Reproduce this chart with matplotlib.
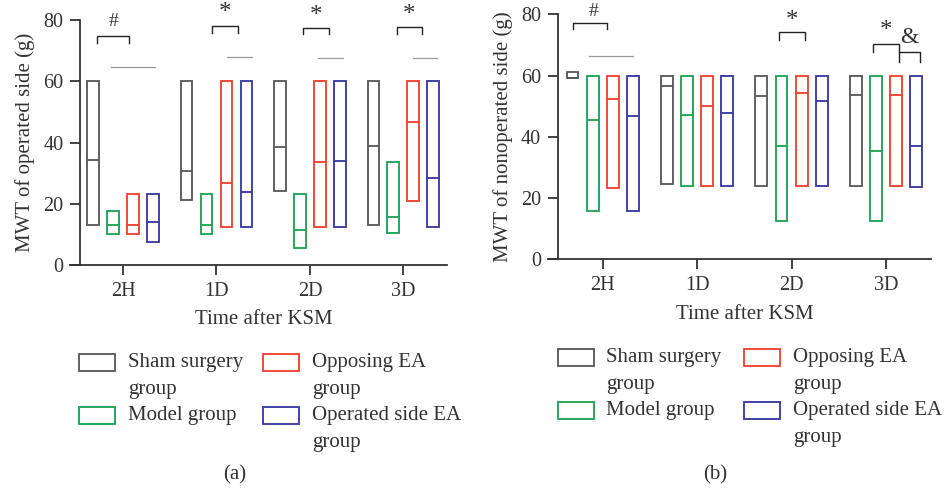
import matplotlib
matplotlib.use("Agg")
import matplotlib.pyplot as plt
import numpy as np
from matplotlib.patches import Rectangle

plt.rcParams['font.family'] = ['Liberation Serif', 'DejaVu Serif']

# --- data ---
times = ['2H', '1D', '2D', '3D']
groups = ['Sham surgery\ngroup', 'Model group', 'Opposing EA\ngroup', 'Operated side EA\ngroup']
colors = ['#555555', '#18a050', '#f03c28', '#3434a0']
offsets = [-0.32, -0.107, 0.107, 0.32]

# rows = groups (sham, model, opposing EA, operated side EA), cols = times
a_low = [[13, 21.2, 24.3, 13],
         [10, 10, 5.5, 10.5],
         [10, 12.5, 12.5, 20.8],
         [7.6, 12.5, 12.5, 12.5]]
a_med = [[34.2, 30.6, 38.5, 39],
         [13, 13, 11.4, 15.6],
         [13, 26.8, 33.7, 46.6],
         [14, 23.7, 33.8, 28.3]]
a_high = [[60, 60, 60, 60],
          [17.6, 23.3, 23.3, 33.5],
          [23.3, 60, 60, 60],
          [23.3, 60, 60, 60]]

b_low = [[59.3, 24.6, 24, 24],
         [15.9, 24, 12.6, 12.6],
         [23.3, 24, 24, 24],
         [15.9, 24, 24, 23.6]]
b_med = [[59.3, 56.6, 53.4, 53.8],
         [45.4, 47.1, 37.1, 35.5],
         [52.3, 50.2, 54.4, 53.8],
         [46.8, 47.7, 51.8, 37.1]]
b_high = [[61, 60, 60, 60],
          [60, 60, 60, 60],
          [60, 60, 60, 60],
          [60, 60, 60, 60]]

# significance brackets: x0, x1, y, leg bottom, label, label x, label y
a_marks = [(-0.274, 0.064, 74.8, 72.5, '#', -0.107, 79.6),
           (0.957, 1.23, 78.2, 75.8, '*', 1.09, 82.3),
           (1.93, 2.2, 77.4, 75.5, '*', 2.065, 81.4),
           (2.93, 3.2, 77.7, 75.5, '*', 3.065, 81.6)]
a_gray = [(-0.124, 0.34, 64.7), (1.117, 1.38, 68), (2.09, 2.357, 67.5), (3.1, 3.36, 67.6)]

b_marks = [(-0.31, 0.04, 77.0, 75.1, '#', -0.1, 81.0),
           (1.866, 2.14, 74.1, 71.6, '*', 2.0, 77.7),
           (2.866, 3.138, 70.3, 67.6, '*', 3.0, 74.7),
           (3.138, 3.36, 67.6, 64.3, '&', 3.247, 72.5)]
b_gray = [(-0.15, 0.32, 66.5)]

W, H = 944, 490
fig = plt.figure(figsize=(W / 100, H / 100), dpi=100)


def px(x, y):
    return x / W, 1 - y / H


def panel(rect, low, med, high, marks, gray, ylabel, xlim, spine_x):
    ax = fig.add_axes(rect)
    x = np.arange(len(times))
    bw = 0.125
    for i in range(len(groups)):
        lo = np.array(low[i])
        hi = np.array(high[i])
        ax.bar(x + offsets[i], hi - lo, bottom=lo, width=bw, fill=False,
               edgecolor=colors[i], linewidth=1.3)
        ax.hlines(med[i], x + offsets[i] - bw / 2, x + offsets[i] + bw / 2,
                  color=colors[i], lw=1.3)
    for x0, x1, y, yb, lab, lx, ly in marks:
        ax.plot([x0, x0, x1, x1], [yb, y, y, yb], color='#222222', lw=1.0, clip_on=False)
        fs = {'&': 17, '*': 18, '#': 14}[lab]
        ax.text(lx, ly, lab, ha='center', va='center', fontsize=fs, color='#333333',
                clip_on=False)
    for x0, x1, y in gray:
        ax.plot([x0, x1], [y, y], color='#999999', lw=0.9)
    ax.set_xlim(*xlim)
    ax.set_ylim(0, 80)
    ax.set_yticks([0, 20, 40, 60, 80])
    ax.set_xticks(x)
    ax.set_xticklabels(times)
    ax.spines['top'].set_visible(False)
    ax.spines['right'].set_visible(False)
    ax.spines['left'].set_position(('data', spine_x))
    for s in ['left', 'bottom']:
        ax.spines[s].set_linewidth(1.3)
        ax.spines[s].set_color('#333333')
    ax.tick_params(length=7, width=1.3, color='#333333', labelsize=14.5,
                   labelcolor='#333333', pad=5)
    ax.set_ylabel(ylabel, fontsize=15, color='#333333', labelpad=6)
    return ax


ax1 = panel([70 / W, 225 / H, 377 / W, 245 / H], a_low, a_med, a_high, a_marks, a_gray,
            'MWT of operated side (g)', (-0.568, 3.468), -0.461)
ax2 = panel([547.7 / W, 230.7 / H, 383.3 / W, 245 / H], b_low, b_med, b_high, b_marks, b_gray,
            'MWT of nonoperated side (g)', (-0.583, 3.477), -0.477)

tc = '#333333'
fig.text(*px(264, 319), 'Time after KSM', ha='center', va='center', fontsize=15, color=tc)
fig.text(*px(745, 314), 'Time after KSM', ha='center', va='center', fontsize=15, color=tc)
fig.text(*px(235, 475), '(a)', ha='center', va='center', fontsize=15, color=tc)
fig.text(*px(715, 475), '(b)', ha='center', va='center', fontsize=15, color=tc)


def legend(x_h1, x_t1, x_h2, x_t2, y1, y2):
    # handles are 36 x 17 px boxes; first text line lines up with the handle
    pos = [(x_h1, x_t1, y1), (x_h1, x_t1, y2), (x_h2, x_t2, y1), (x_h2, x_t2, y2)]
    for (xh, xt, y), lab, c in zip(pos, groups, colors):
        x0, y0 = px(xh, y + 17)
        fig.add_artist(Rectangle((x0, y0), 36 / W, 17 / H, transform=fig.transFigure,
                                 fill=False, edgecolor=c, lw=1.3))
        fig.text(*px(xt, y - 1), lab, ha='left', va='top', fontsize=15,
                 color=tc, linespacing=1.6)


legend(79, 128, 263, 312, 354, 407)
legend(558, 606, 744, 793, 349, 402)

fig.savefig('out.png', dpi=100)
